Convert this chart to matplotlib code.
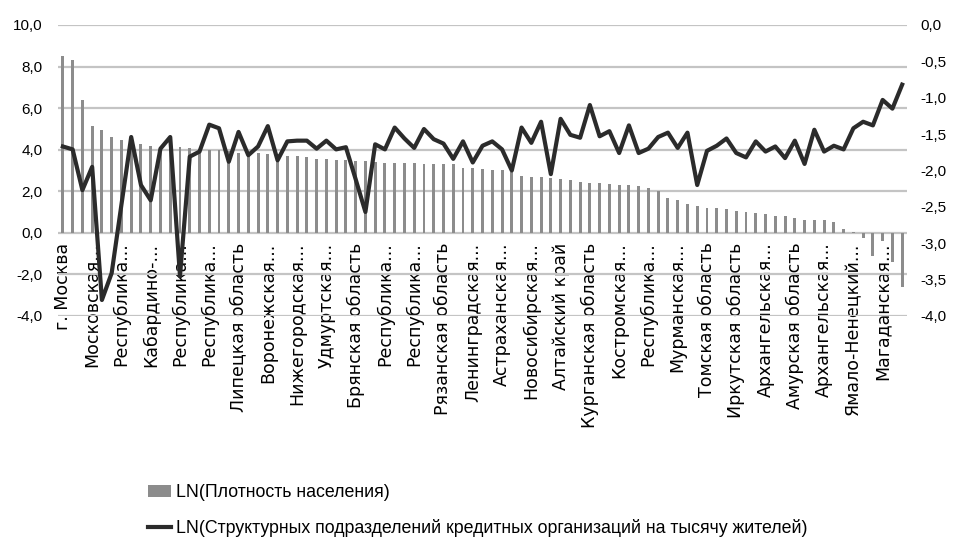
import matplotlib
matplotlib.use("Agg")
import matplotlib.pyplot as plt
from matplotlib.ticker import FuncFormatter

# LN(плотность населения) по регионам, отсортировано по убыванию
density = [8.5, 8.3, 6.4, 5.15, 4.96, 4.6, 4.45, 4.35, 4.27, 4.19,
           4.15, 4.12, 4.12, 4.08, 4.03, 4.0, 4.0, 3.92, 3.85, 3.84,
           3.82, 3.8, 3.78, 3.71, 3.69, 3.63, 3.57, 3.54, 3.52, 3.49,
           3.48, 3.44, 3.41, 3.37, 3.36, 3.36, 3.35, 3.32, 3.31, 3.31,
           3.30, 3.14, 3.11, 3.05, 3.04, 3.0, 2.92, 2.72, 2.71, 2.70,
           2.65, 2.59, 2.52, 2.44, 2.42, 2.40, 2.37, 2.30, 2.29, 2.25,
           2.16, 2.03, 1.70, 1.58, 1.40, 1.27, 1.19, 1.18, 1.13, 1.03,
           1.00, 0.95, 0.92, 0.83, 0.79, 0.71, 0.64, 0.63, 0.62, 0.50,
           0.18, 0.03, -0.25, -1.13, -0.4, -1.4, -2.6]

# LN(структурных подразделений на тысячу жителей)
branches = [-1.67, -1.71, -2.27, -1.95, -3.78, -3.41, -2.47, -1.54, -2.2, -2.41,
            -1.70, -1.54, -3.45, -1.81, -1.74, -1.37, -1.42, -1.88, -1.47, -1.79,
            -1.67, -1.39, -1.86, -1.60, -1.59, -1.59, -1.70, -1.59, -1.71, -1.68,
            -2.12, -2.57, -1.64, -1.71, -1.41, -1.56, -1.69, -1.43, -1.57, -1.63,
            -1.84, -1.60, -1.89, -1.66, -1.60, -1.71, -2.0, -1.41, -1.62, -1.33,
            -2.05, -1.29, -1.51, -1.55, -1.10, -1.53, -1.46, -1.76, -1.38, -1.76,
            -1.70, -1.54, -1.48, -1.69, -1.48, -2.20, -1.73, -1.66, -1.56, -1.76,
            -1.82, -1.60, -1.74, -1.67, -1.83, -1.59, -1.91, -1.44, -1.74, -1.66,
            -1.71, -1.42, -1.33, -1.38, -1.03, -1.15, -0.82]

# подписи - каждый третий регион
tick_labels = ["г. Москва", "Московская...", "Республика...", "Кабардино-...",
               "Республика...", "Республика...", "Липецкая область", "Воронежская...",
               "Нижегородская...", "Удмуртская...", "Брянская область", "Республика...",
               "Республика...", "Рязанская область", "Ленинградская...", "Астраханская...",
               "Новосибирская...", "Алтайский край", "Курганская область", "Костромская...",
               "Республика...", "Мурманская...", "Томская область", "Иркутская область",
               "Архангельская...", "Амурская область", "Архангельская...", "Ямало-Ненецкий...",
               "Магаданская..."]

num_font = "Liberation Sans"
comma = FuncFormatter(lambda v, p: f"{v:.1f}".replace(".", ","))

fig = plt.figure(figsize=(9.57, 5.48), dpi=100)
ax = fig.add_axes([0.0606, 0.4234, 0.8872, 0.5310])
ax2 = ax.twinx()

x = list(range(len(density)))
bars = ax.bar(x, density, width=0.3, color="#8c8c8c", zorder=2,
              label="LN(Плотность населения)")
line, = ax2.plot(x, branches, color="#2b2b2b", linewidth=3.0,
                 solid_joinstyle="round",
                 label="LN(Структурных подразделений кредитных организаций на тысячу жителей)")

ax.set_xlim(-0.5, len(density) - 0.5)
ax.set_ylim(-4, 10)
ax.set_yticks(range(-4, 11, 2))
ax2.set_ylim(-4, 0)
ax2.set_yticks([-4, -3.5, -3, -2.5, -2, -1.5, -1, -0.5, 0])
ax.yaxis.set_major_formatter(comma)
ax2.yaxis.set_major_formatter(comma)

# сетка
ax.set_axisbelow(True)
ax.grid(axis="y", color="#c4c4c4", linewidth=1.6)
for a in (ax, ax2):
    for s in a.spines.values():
        s.set_visible(False)
    a.tick_params(length=0)

# подписи категорий у нулевой линии
ax.spines["bottom"].set_position(("data", 0))
ax.set_xticks(x[::3])
ax.set_xticklabels(tick_labels, rotation=90, fontsize=12.5, family="DejaVu Sans")
ax.tick_params(axis="x", pad=7)

for lab in ax.get_yticklabels() + ax2.get_yticklabels():
    lab.set_family(num_font)
    lab.set_fontsize(11)
ax.tick_params(axis="y", pad=11)
ax2.tick_params(axis="y", pad=9.5)

fig.legend(handles=[bars, line], loc="lower left", bbox_to_anchor=(0.155, 0.02),
           frameon=False, ncol=1, handlelength=1.3, handletextpad=0.25,
           labelspacing=1.0, borderpad=0, borderaxespad=0,
           prop={"family": num_font, "size": 12.8})

fig.savefig("out.png", dpi=100)
